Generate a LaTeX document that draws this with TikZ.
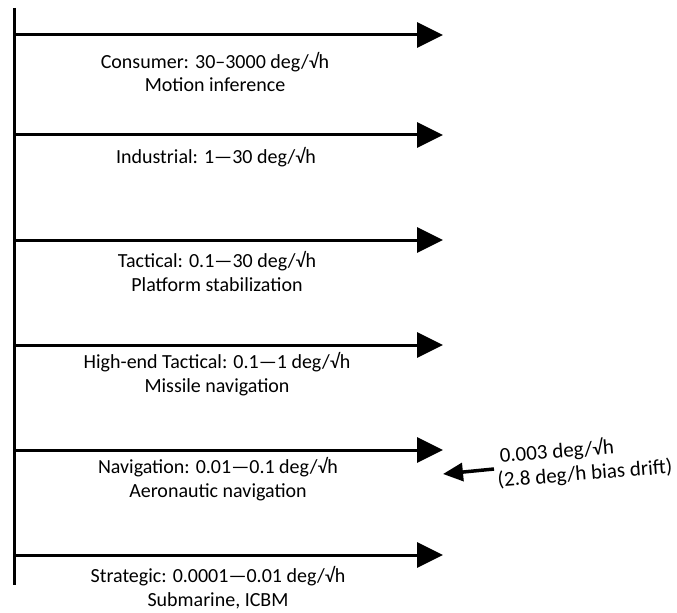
\documentclass[tikz,border=0pt]{standalone}
\usepackage{fontspec}
\setmainfont{Carlito}
\usetikzlibrary{arrows.meta}
\begin{document}
\begin{tikzpicture}[x=1bp,y=-1bp,
  axis/.style={line width=3bp},
  level/.style={line width=3bp,-{Triangle[length=26bp,width=25bp]}},
  lbl/.style={font=\fontsize{20bp}{23.5bp}\selectfont, align=center, anchor=base, inner sep=0pt},
  notelbl/.style={font=\fontsize{21bp}{24bp}\selectfont, align=left, anchor=base west, inner sep=0pt, rotate=4.5},
  notearrow/.style={line width=3.5bp,-{Triangle[length=20bp,width=18bp]}}]
\useasboundingbox (0,0) rectangle (677,613);
\coordinate (top) at (14,8);
\coordinate (bot) at (14,585);
\draw[axis] (top) -- (bot);
\foreach \i/\y in {1/35,2/135,3/240,4/345,5/450,6/555} {
  \coordinate (s\i) at (14,\y);
  \coordinate (e\i) at (443,\y);
  \draw[level] (s\i) -- (e\i);
}
\node[lbl] (l1) at (215,92) {Consumer: 30–3000 deg/√h\\Motion inference};
\node[lbl] (l2) at (216,164) {Industrial: 1—30 deg/√h};
\node[lbl] (l3) at (217,291) {Tactical: 0.1—30 deg/√h\\Platform stabilization};
\node[lbl] (l4) at (217,392) {High-end Tactical: 0.1—1 deg/√h\\Missile navigation};
\node[lbl] (l5) at (218,497) {Navigation: 0.01—0.1 deg/√h\\Aeronautic navigation};
\node[lbl] (l6) at (218,606) {Strategic: 0.0001—0.01 deg/√h\\Submarine, ICBM};
\node[notelbl] (note) at (498,487) {\hspace*{4bp}0.003 deg/√h\\(2.8 deg/h bias drift)};
\coordinate (tail) at (494,469);
\coordinate (tip) at (443,474);
\draw[notearrow] (tail) -- (tip);
\end{tikzpicture}
\end{document}
